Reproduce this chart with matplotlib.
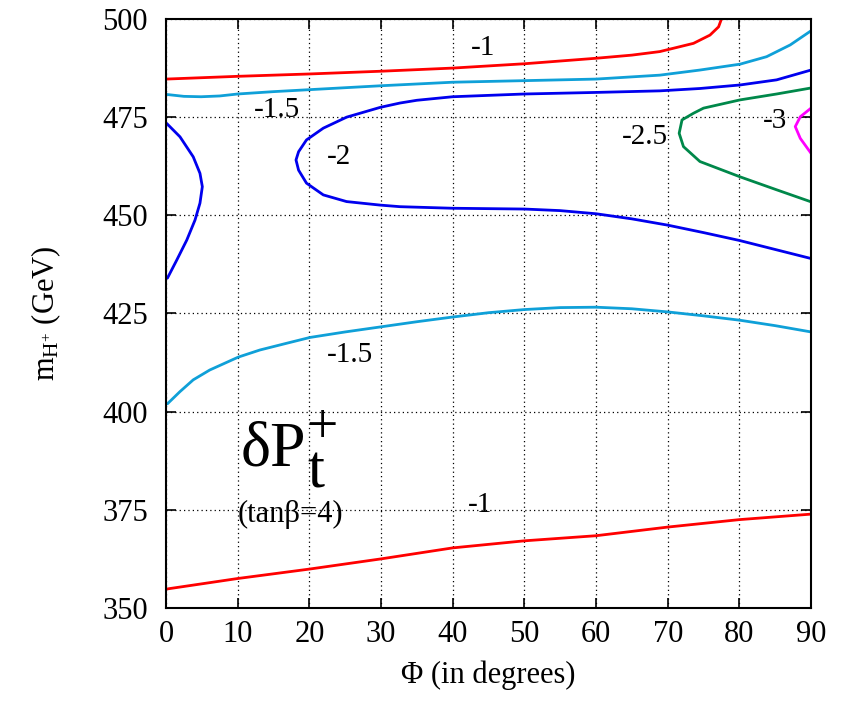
import matplotlib
matplotlib.use("Agg")
import matplotlib.pyplot as plt

# ---- data ----
red_top_phi = [0, 10, 20, 30, 40, 50, 60, 65, 68.9, 73.6, 75.9, 77.1, 77.5]
red_top_m   = [484.7, 485.4, 486.0, 486.7, 487.5, 488.6, 490.0, 490.8, 491.7, 493.8, 495.9, 498.0, 500.0]

cyan_top_phi = [0, 2.5, 4.9, 7.5, 10, 15, 20, 30, 40, 50, 60, 68.9, 74.5, 80.1, 83.8, 87.1, 90]
cyan_top_m   = [480.8, 480.3, 480.2, 480.4, 480.9, 481.5, 482.0, 483.0, 483.9, 484.3, 484.7, 485.7,
                487.0, 488.5, 490.4, 493.4, 497.0]

blue_loop_phi = [90, 85.2, 80.1, 74.5, 68.9, 60, 50, 40, 35, 32.65, 29.9, 25.2, 21.95, 19.6, 18.5, 18.14,
                 18.5, 19.6, 21.95, 25.2, 29.9, 32.65, 40, 50, 55, 60, 65, 70, 75, 80, 85, 90]
blue_loop_m   = [487.0, 484.5, 483.2, 482.3, 481.7, 481.3, 480.9, 480.2, 479.3, 478.6, 477.5, 475.0,
                 472.2, 469.2, 466.2, 464.1, 461.5, 458.2, 455.2, 453.5, 452.6, 452.2, 451.8, 451.6,
                 451.2, 450.4, 449.1, 447.5, 445.6, 443.6, 441.3, 439.0]

blue_left_phi = [0.1, 1.95, 3.8, 4.74, 5.07, 4.74, 4.05, 2.9, 1.5, 0.2]
blue_left_m   = [473.4, 470.0, 464.9, 460.7, 457.3, 453.1, 448.8, 443.7, 438.6, 434.0]

cyan_low_phi = [0.2, 1.95, 3.8, 6.1, 10.1, 13.1, 16.8, 20.1, 25, 30, 35, 40, 45, 50, 55, 60, 65, 70, 75, 80, 85, 90]
cyan_low_m   = [402.0, 405.1, 408.1, 410.6, 413.9, 415.7, 417.4, 418.9, 420.3, 421.6, 422.9, 424.1,
                425.2, 426.0, 426.5, 426.6, 426.2, 425.4, 424.4, 423.3, 421.9, 420.3]

green_phi = [89.9, 85.2, 80.1, 75.0, 73.6, 72.0, 71.6, 72.2, 74.5, 80.1, 85.2, 89.9]
green_m   = [482.4, 480.9, 479.4, 477.3, 476.0, 474.3, 470.9, 467.5, 463.7, 459.8, 456.5, 453.5]

mag_phi = [90, 88.5, 87.8, 88.5, 90]
mag_m   = [477.3, 475.1, 472.6, 469.6, 465.8]

red_low_phi = [0, 10, 20, 30, 40, 50, 60, 70, 80, 90]
red_low_m   = [354.8, 357.5, 359.9, 362.5, 365.3, 367.1, 368.4, 370.6, 372.5, 373.9]

label_text = ["-1", "-1.5", "-2", "-2.5", "-3", "-1.5", "-1"]
label_phi  = [44.3, 15.5, 24.2, 66.8, 85.0, 25.7, 43.8]
label_m    = [492.5, 476.8, 464.9, 470.0, 474.0, 414.4, 376.3]

xticks = [0, 10, 20, 30, 40, 50, 60, 70, 80, 90]
yticks = [350, 375, 400, 425, 450, 475, 500]

RED = "#ff0000"
CYAN = "#0fa0d8"
BLUE = "#0000ee"
GREEN = "#00884a"
MAG = "#ff00ff"

plt.rcParams['font.family'] = ['Liberation Serif', 'DejaVu Serif']
plt.rcParams['mathtext.fontset'] = 'custom'
plt.rcParams['mathtext.rm'] = 'Liberation Serif'
plt.rcParams['mathtext.it'] = 'Liberation Serif'

fig = plt.figure(figsize=(8.53, 7.09), dpi=100)
ax = fig.add_axes([0.1946, 0.1425, 0.7562, 0.8307])

lw = 2.0
kw = dict(lw=lw, solid_joinstyle='round', solid_capstyle='round')
ax.plot(red_top_phi, red_top_m, color=RED, **kw)
ax.plot(cyan_top_phi, cyan_top_m, color=CYAN, **kw)
ax.plot(blue_loop_phi, blue_loop_m, color=BLUE, **kw)
ax.plot(blue_left_phi, blue_left_m, color=BLUE, **kw)
ax.plot(cyan_low_phi, cyan_low_m, color=CYAN, **kw)
ax.plot(green_phi, green_m, color=GREEN, **kw)
ax.plot(mag_phi, mag_m, color=MAG, **kw)
ax.plot(red_low_phi, red_low_m, color=RED, **kw)

for t, x, y in zip(label_text, label_phi, label_m):
    ax.text(x, y, t, fontsize=21, ha='center', va='center', color='black')

# big annotation (gnuplot-style full-size sub/superscript)
ax.text(10.4, 386.2, "δP", fontsize=46, ha='left', va='baseline')
ax.text(19.7, 380.6, "t", fontsize=44, ha='left', va='baseline')
ax.text(19.6, 395.6, "+", fontsize=40, ha='left', va='center')
ax.text(10.0, 373.9, "(tanβ=4)", fontsize=22, ha='left', va='center')

ax.set_xlim(0, 90)
ax.set_ylim(350, 500)
ax.set_xticks(xticks)
ax.set_yticks(yticks)
ax.tick_params(direction='in', length=7, width=1.2, top=True, right=True,
               labelsize=22)
ax.tick_params(axis='x', pad=9)
ax.tick_params(axis='y', pad=13)
ax.grid(True, color='black', linestyle=(0, (1, 2.5)), linewidth=0.9)
for s in ax.spines.values():
    s.set_linewidth(1.5)

ax.set_xlabel("Φ (in degrees)", fontsize=22, labelpad=8)
ax.set_ylabel(r"m$_{\mathrm{H}^{+}}$ (GeV)", fontsize=22, labelpad=28)

fig.savefig("out.png", dpi=100)
